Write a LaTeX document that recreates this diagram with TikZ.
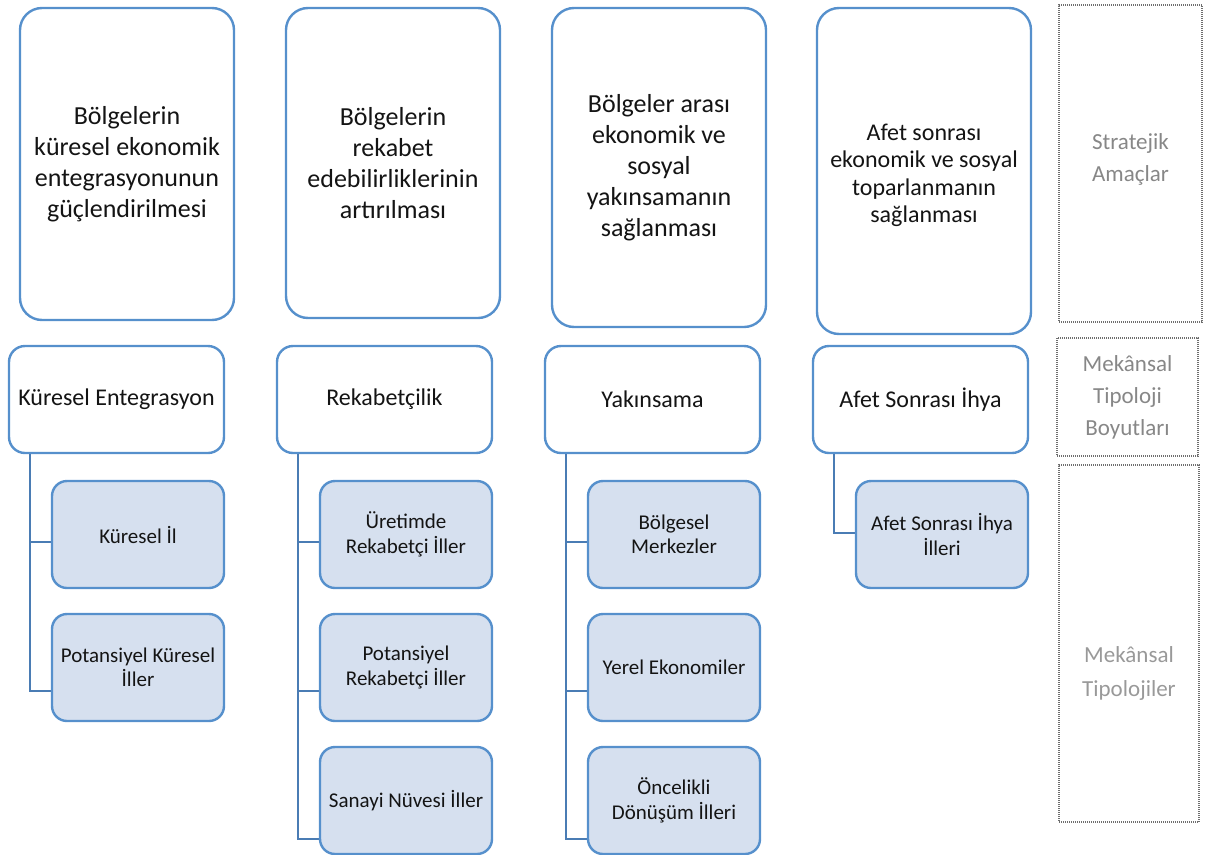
\documentclass[tikz,border=0pt]{standalone}
\usepackage{fontspec}
\setmainfont{Carlito}
\definecolor{bordblue}{RGB}{86,144,204}
\definecolor{connblue}{RGB}{74,124,180}
\definecolor{fillblue}{RGB}{214,224,239}
\definecolor{txt}{RGB}{20,20,20}
\definecolor{lblgray}{RGB}{135,135,135}
\definecolor{dotgray}{RGB}{110,110,110}
\tikzset{
  topbox/.style={draw=bordblue, line width=2.4pt, rounded corners=22pt, fill=white,
    inner sep=0pt, align=center, text=txt,
    font=\fontsize{26}{31}\selectfont},
  midbox/.style={draw=bordblue, line width=2.4pt, rounded corners=16pt, fill=white,
    inner sep=0pt, minimum width=215pt, minimum height=107pt, align=center, text=txt,
    font=\fontsize{24}{29}\selectfont},
  childbox/.style={draw=bordblue, line width=2.4pt, rounded corners=15pt, fill=fillblue,
    inner sep=0pt, minimum width=172pt, minimum height=107pt, align=center, text=txt,
    font=\fontsize{21}{24.5}\selectfont},
  sidebox/.style={draw=dotgray, line width=1.3pt, dash pattern=on 1pt off 1pt,
    inner sep=0pt, align=center, text=lblgray, font=\fontsize{23}{32}\selectfont},
  conn/.style={draw=connblue, line width=2.4pt},
}
\begin{document}
\begin{tikzpicture}[x=1pt,y=-1pt]
\useasboundingbox (0,0) rectangle (1209,854);
% top boxes (strategic aims)
\node[topbox, minimum width=214pt, minimum height=312pt] (t1) at (127,164)
  {Bölgelerin\\küresel ekonomik\\entegrasyonunun\\güçlendirilmesi};
\node[topbox, minimum width=214pt, minimum height=310pt] (t2) at (393,163)
  {Bölgelerin\\rekabet\\edebilirliklerinin\\artırılması};
\node[topbox, minimum width=214pt, minimum height=319pt] (t3) at (659,167.5)
  {Bölgeler arası\\ekonomik ve\\sosyal\\yakınsamanın\\sağlanması};
\node[topbox, minimum width=214pt, minimum height=326pt, font=\fontsize{24}{27.5}\selectfont] (t4) at (924,171)
  {\rule{0pt}{25pt}Afet sonrası\\ekonomik ve sosyal\\toparlanmanın\\sağlanması};
% middle boxes (dimensions)
\node[midbox] (m1) at (116.5,399.5) {Küresel Entegrasyon};
\node[midbox] (m2) at (384.5,399.5) {Rekabetçilik};
\node[midbox] (m3) at (652.5,399.5) {Yakınsama};
\node[midbox] (m4) at (920.5,399.5) {Afet Sonrası İhya};
% connectors
\draw[conn] ([xshift=22pt]m1.south west) |- (52,691) coordinate (h12);
\draw[conn] (31,542) -- (52,542) coordinate (h11);
\draw[conn] ([xshift=22pt]m2.south west) |- (320,839) coordinate (h23);
\draw[conn] (299,542) -- (320,542) coordinate (h21);
\draw[conn] (299,691) -- (320,691) coordinate (h22);
\draw[conn] ([xshift=22pt]m3.south west) |- (588,839) coordinate (h33);
\draw[conn] (567,542) -- (588,542) coordinate (h31);
\draw[conn] (567,691) -- (588,691) coordinate (h32);
\draw[conn] ([xshift=22pt]m4.south west) |- (856,533) coordinate (h41);
% child boxes (typologies)
\node[childbox] (c11) at (138,534.5) {Küresel İl};
\node[childbox] (c12) at (138,667.5) {Potansiyel Küresel\\İller};
\node[childbox] (c21) at (406,534.5) {Üretimde\\Rekabetçi İller};
\node[childbox] (c22) at (406,667.5) {Potansiyel\\Rekabetçi İller};
\node[childbox] (c23) at (406,800.5) {Sanayi Nüvesi İller};
\node[childbox] (c31) at (674,534.5) {Bölgesel\\Merkezler};
\node[childbox] (c32) at (674,667.5) {Yerel Ekonomiler};
\node[childbox] (c33) at (674,800.5) {Öncelikli\\Dönüşüm İlleri};
\node[childbox] (c41) at (942,534.5) {Afet Sonrası İhya\\İlleri};
% side labels
\node[sidebox, minimum width=143pt, minimum height=317pt] (s1) at (1130.5,163.5) {};
\node[text=lblgray, font=\fontsize{23}{32}\selectfont, align=center] (s1t) at (1130.5,159) {Stratejik\\Amaçlar};
\node[sidebox, minimum width=141pt, minimum height=118pt] (s2) at (1127.5,397) {Mekânsal\\Tipoloji\\Boyutları};
\node[sidebox, minimum width=140pt, minimum height=357pt] (s3) at (1129,643.5) {};
\node[text=lblgray!85, font=\fontsize{23}{34}\selectfont, align=center] (s3t) at (1129,673) {Mekânsal\\Tipolojiler};
\end{tikzpicture}
\end{document}
